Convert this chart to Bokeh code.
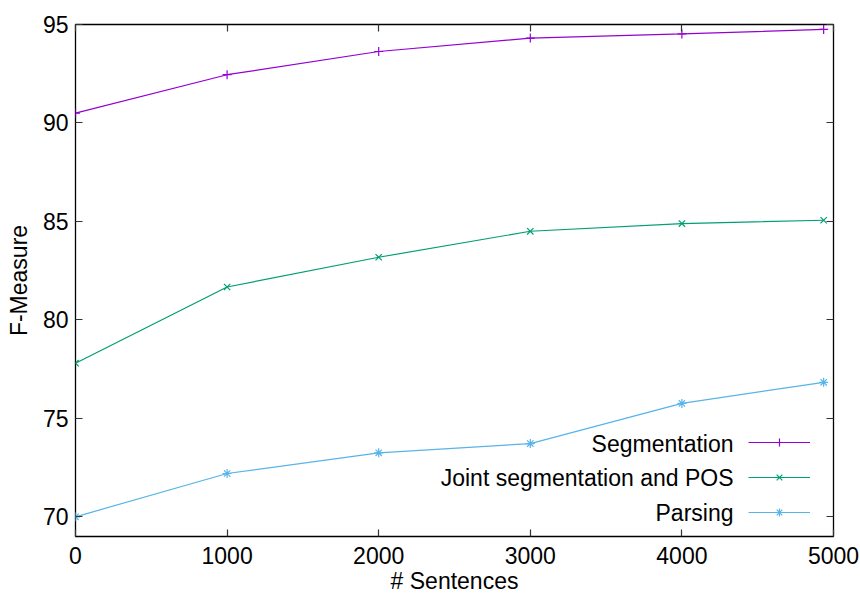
from bokeh.plotting import figure
from bokeh.models import (Range1d, LinearAxis, FixedTicker, Legend, LegendItem, Label)
from bokeh.core.properties import value
from bokeh.embed import file_html
from bokeh.resources import INLINE

# ---- data ----
sentences = [0, 1000, 2000, 3000, 4000, 4935]
segmentation = [90.5, 92.45, 93.63, 94.31, 94.52, 94.75]
joint_seg_pos = [77.8, 81.67, 83.18, 84.5, 84.89, 85.06]
parsing = [70.0, 72.2, 73.25, 73.72, 75.76, 76.83]
series_names = ["Segmentation", "Joint segmentation and POS", "Parsing"]
x_ticks = [0, 1000, 2000, 3000, 4000, 5000]
y_ticks = [70, 75, 80, 85, 90, 95]
x_title = "# Sentences"
y_title = "F-Measure"

FONT = "Liberation Sans"
FS = "23px"
colors = ["#9400d3", "#009e73", "#56b4e9"]
markers = ["cross", "x", "asterisk"]

p = figure(width=860, height=597, output_backend="svg", toolbar_location=None,
           x_range=Range1d(0, 5000), y_range=Range1d(69, 95),
           min_border_left=75, min_border_right=27, min_border_top=24,
           min_border_bottom=61)
p.grid.visible = False
p.outline_line_color = "black"
p.outline_line_width = 1.3
p.background_fill_color = "white"
p.border_fill_color = "white"

for ax in (p.xaxis[0], p.yaxis[0]):
    ax.axis_line_color = None
    ax.major_tick_in = 7
    ax.major_tick_out = 0
    ax.minor_tick_line_color = None
    ax.major_tick_line_color = "#333333"
    ax.major_tick_line_width = 1.2
    ax.major_label_text_font = FONT
    ax.major_label_text_font_size = FS
    ax.major_label_text_color = "black"
    ax.axis_label_text_font = FONT
    ax.axis_label_text_font_size = FS
    ax.axis_label_text_font_style = "normal"
    ax.axis_label_text_color = "black"

p.xaxis[0].ticker = FixedTicker(ticks=x_ticks)
p.yaxis[0].ticker = FixedTicker(ticks=y_ticks)
p.xaxis[0].axis_label = x_title
p.yaxis[0].axis_label = y_title
p.xaxis[0].major_label_standoff = 10
p.xaxis[0].axis_label_standoff = 1
p.yaxis[0].major_label_standoff = 7
p.yaxis[0].axis_label_standoff = 8

# mirrored ticks on top and right (labels not drawn)
top = LinearAxis(ticker=FixedTicker(ticks=x_ticks))
right = LinearAxis(ticker=FixedTicker(ticks=y_ticks))
for ax in (top, right):
    ax.axis_line_color = None
    ax.major_tick_in = 7
    ax.major_tick_out = 0
    ax.minor_tick_line_color = None
    ax.major_tick_line_color = "#333333"
    ax.major_tick_line_width = 1.2
    ax.major_label_text_font_size = "9px"
    ax.major_label_text_color = None
    ax.major_label_standoff = 0
p.add_layout(top, "above")
p.add_layout(right, "right")

items = []
for ys, c, m in zip([segmentation, joint_seg_pos, parsing], colors, markers):
    lr = p.line(sentences, ys, line_color=c, line_width=1.2)
    sr = p.scatter(sentences, ys, marker=m, size=9, line_color=c, line_width=1.2,
                   fill_color=None)
    items.append(LegendItem(label=value(""), renderers=[lr, sr]))

legend = Legend(items=items, location=(673, 14), glyph_width=62, glyph_height=20,
                label_width=0, label_standoff=0, label_text_font_size="9px",
                label_text_color=None,
                padding=0, margin=0, spacing=15, border_line_color=None,
                background_fill_alpha=0)
p.add_layout(legend, "center")

for name, yy in zip(series_names, [93, 58.4, 24]):
    p.add_layout(Label(x=658, y=yy, x_units="screen", y_units="screen", text=name,
                       text_align="right", text_baseline="middle",
                       text_font=FONT, text_font_size=FS, text_color="black"))

open("out.html", "w").write(file_html(p, INLINE))
